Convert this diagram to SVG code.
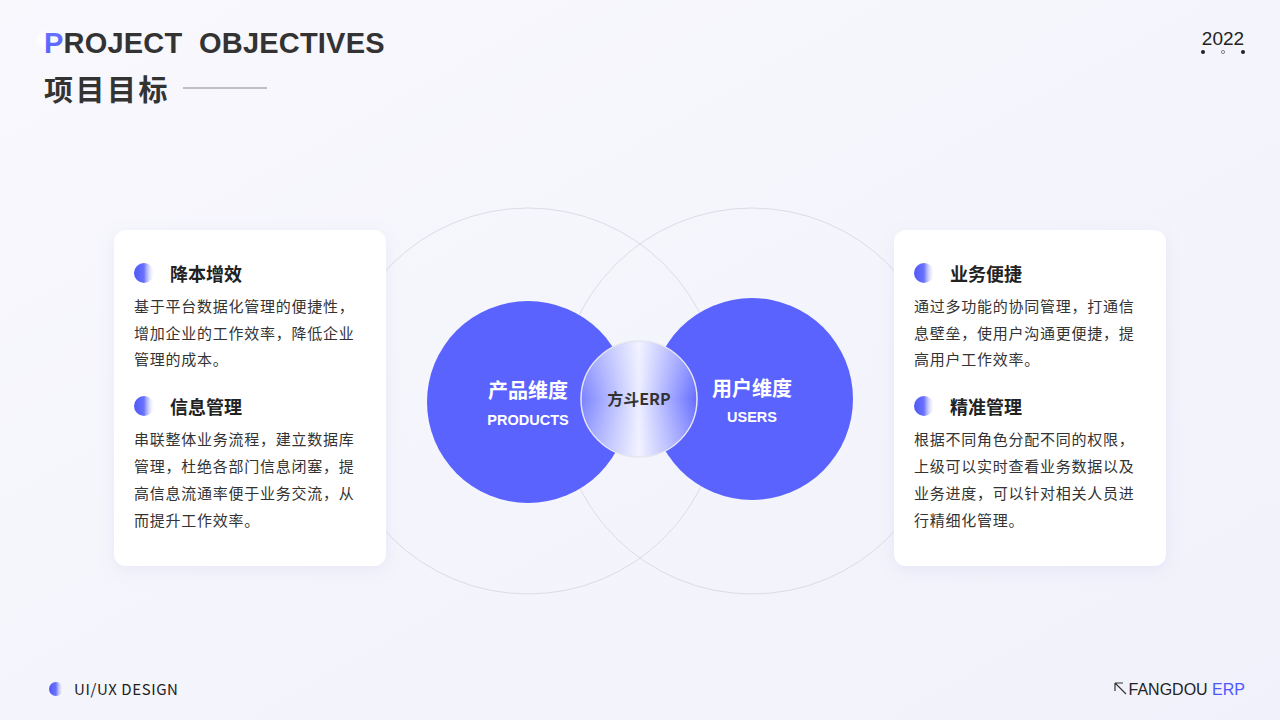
<svg xmlns="http://www.w3.org/2000/svg" width="1280" height="720" viewBox="0 0 1280 720">
<defs>
<linearGradient id="bg" x1="0" y1="0" x2="1" y2="1"><stop offset="0" stop-color="#f8f8fd"/><stop offset="1" stop-color="#f1f1fb"/></linearGradient>
<linearGradient id="dot" x1="0" y1="0" x2="1" y2="0"><stop offset="0" stop-color="#4f58f5"/><stop offset="0.5" stop-color="#6a72ff"/><stop offset="1" stop-color="#ffffff" stop-opacity="0.2"/></linearGradient>
<linearGradient id="mid" x1="0" y1="0" x2="1" y2="0"><stop offset="0" stop-color="#7a82ff"/><stop offset="0.5" stop-color="#eceeff"/><stop offset="1" stop-color="#646cff"/></linearGradient>
<linearGradient id="midv" x1="0" y1="0" x2="0" y2="1"><stop offset="0" stop-color="#ffffff" stop-opacity="0.3"/><stop offset="0.5" stop-color="#ffffff" stop-opacity="0"/><stop offset="1" stop-color="#ffffff" stop-opacity="0.3"/></linearGradient>
<linearGradient id="pg" x1="0" y1="0" x2="1" y2="1"><stop offset="0" stop-color="#6c75ff"/><stop offset="1" stop-color="#3d49ff"/></linearGradient>
<filter id="sh" x="-20%" y="-20%" width="140%" height="140%"><feDropShadow dx="0" dy="4" stdDeviation="8" flood-color="#8088c8" flood-opacity="0.12"/></filter>
<filter id="blur"><feGaussianBlur stdDeviation="3"/></filter>
<style>
.t{font-family:"Noto Sans CJK SC","Noto Sans",sans-serif;}
.h{font-family:"Liberation Sans",Arial,sans-serif;font-weight:bold;}
.ct{font-size:18px;font-weight:bold;fill:#222;}
.cb{font-size:15px;fill:#333;letter-spacing:0.75px;}
.card{fill:#fff;filter:url(#sh);}
.ring{fill:none;stroke:#dcdce4;stroke-width:1;}
</style>
</defs>
<rect width="1280" height="720" fill="url(#bg)"/>
<g id="header">
<circle cx="45" cy="40" r="8" fill="#fff" filter="url(#blur)"/>
<text y="53" class="h" font-size="29" fill="#333" letter-spacing="0.2"><tspan x="44" fill="url(#pg)">P</tspan><tspan>ROJECT</tspan><tspan x="199">OBJECTIVES</tspan></text>
<text x="44" y="101" class="t" font-size="29" font-weight="bold" fill="#333" letter-spacing="2.5">项目目标</text>
<line x1="183" y1="88" x2="267" y2="88" stroke="#888" stroke-width="1"/>
<text x="1223" y="45" text-anchor="middle" font-family="Liberation Sans,Arial,sans-serif" font-size="19" fill="#222">2022</text>
<circle cx="1203" cy="52" r="2" fill="#222"/>
<circle cx="1223" cy="52" r="1.6" fill="none" stroke="#666" stroke-width="0.8"/>
<circle cx="1243" cy="52" r="2" fill="#222"/>
</g>
<g id="connectors">
<circle class="ring" cx="528" cy="401" r="193"/>
<circle class="ring" cx="752" cy="401" r="193"/>
</g>
<g id="card-left">
<rect class="card" x="114" y="230" width="272" height="336" rx="12"/>
<circle cx="144" cy="273" r="10" fill="url(#dot)"/>
<text x="170" y="281" class="t ct">降本增效</text>
<text class="t cb"><tspan x="134" y="312">基于平台数据化管理的便捷性，</tspan><tspan x="134" y="339">增加企业的工作效率，降低企业</tspan><tspan x="134" y="365">管理的成本。</tspan></text>
<circle cx="144" cy="406" r="10" fill="url(#dot)"/>
<text x="170" y="414" class="t ct">信息管理</text>
<text class="t cb"><tspan x="134" y="445">串联整体业务流程，建立数据库</tspan><tspan x="134" y="472">管理，杜绝各部门信息闭塞，提</tspan><tspan x="134" y="499">高信息流通率便于业务交流，从</tspan><tspan x="134" y="526">而提升工作效率。</tspan></text>
</g>
<g id="card-right">
<rect class="card" x="894" y="230" width="272" height="336" rx="12"/>
<circle cx="924" cy="273" r="10" fill="url(#dot)"/>
<text x="950" y="281" class="t ct">业务便捷</text>
<text class="t cb"><tspan x="914" y="312">通过多功能的协同管理，打通信</tspan><tspan x="914" y="339">息壁垒，使用户沟通更便捷，提</tspan><tspan x="914" y="365">高用户工作效率。</tspan></text>
<circle cx="924" cy="406" r="10" fill="url(#dot)"/>
<text x="950" y="414" class="t ct">精准管理</text>
<text class="t cb"><tspan x="914" y="445">根据不同角色分配不同的权限，</tspan><tspan x="914" y="472">上级可以实时查看业务数据以及</tspan><tspan x="914" y="499">业务进度，可以针对相关人员进</tspan><tspan x="914" y="526">行精细化管理。</tspan></text>
</g>
<g id="node-products">
<circle cx="528" cy="402" r="101" fill="#5b63ff"/>
<text x="528" y="398" text-anchor="middle" class="t" font-size="20" font-weight="bold" fill="#fff">产品维度</text>
<text x="528" y="425" text-anchor="middle" class="h" font-size="14.5" fill="#fff">PRODUCTS</text>
</g>
<g id="node-users">
<circle cx="752" cy="399" r="101" fill="#5b63ff"/>
<text x="752" y="396" text-anchor="middle" class="t" font-size="20" font-weight="bold" fill="#fff">用户维度</text>
<text x="752" y="422" text-anchor="middle" class="h" font-size="14.5" fill="#fff">USERS</text>
</g>
<g id="node-center">
<circle cx="639" cy="399" r="58" fill="url(#mid)" stroke="#e6e6f2" stroke-width="1.5"/>
<circle cx="639" cy="399" r="57" fill="url(#midv)"/>
<text x="639" y="405" text-anchor="middle" class="t" font-size="16" font-weight="bold" fill="#333">方斗ERP</text>
</g>
<g id="footer">
<circle cx="56" cy="689" r="7" fill="url(#dot)"/>
<text x="74" y="695" class="t" font-size="15" fill="#222" letter-spacing="0.6">UI/UX DESIGN</text>
<path d="M1115 683 L1126 694 M1115 683 L1115 691 M1115 683 L1123 683" stroke="#333" stroke-width="1.2" fill="none"/>
<text x="1245" y="695" text-anchor="end" font-family="Liberation Sans,Arial,sans-serif" font-size="16" fill="#222">FANGDOU <tspan fill="#4d57ff">ERP</tspan></text>
</g>
</svg>
